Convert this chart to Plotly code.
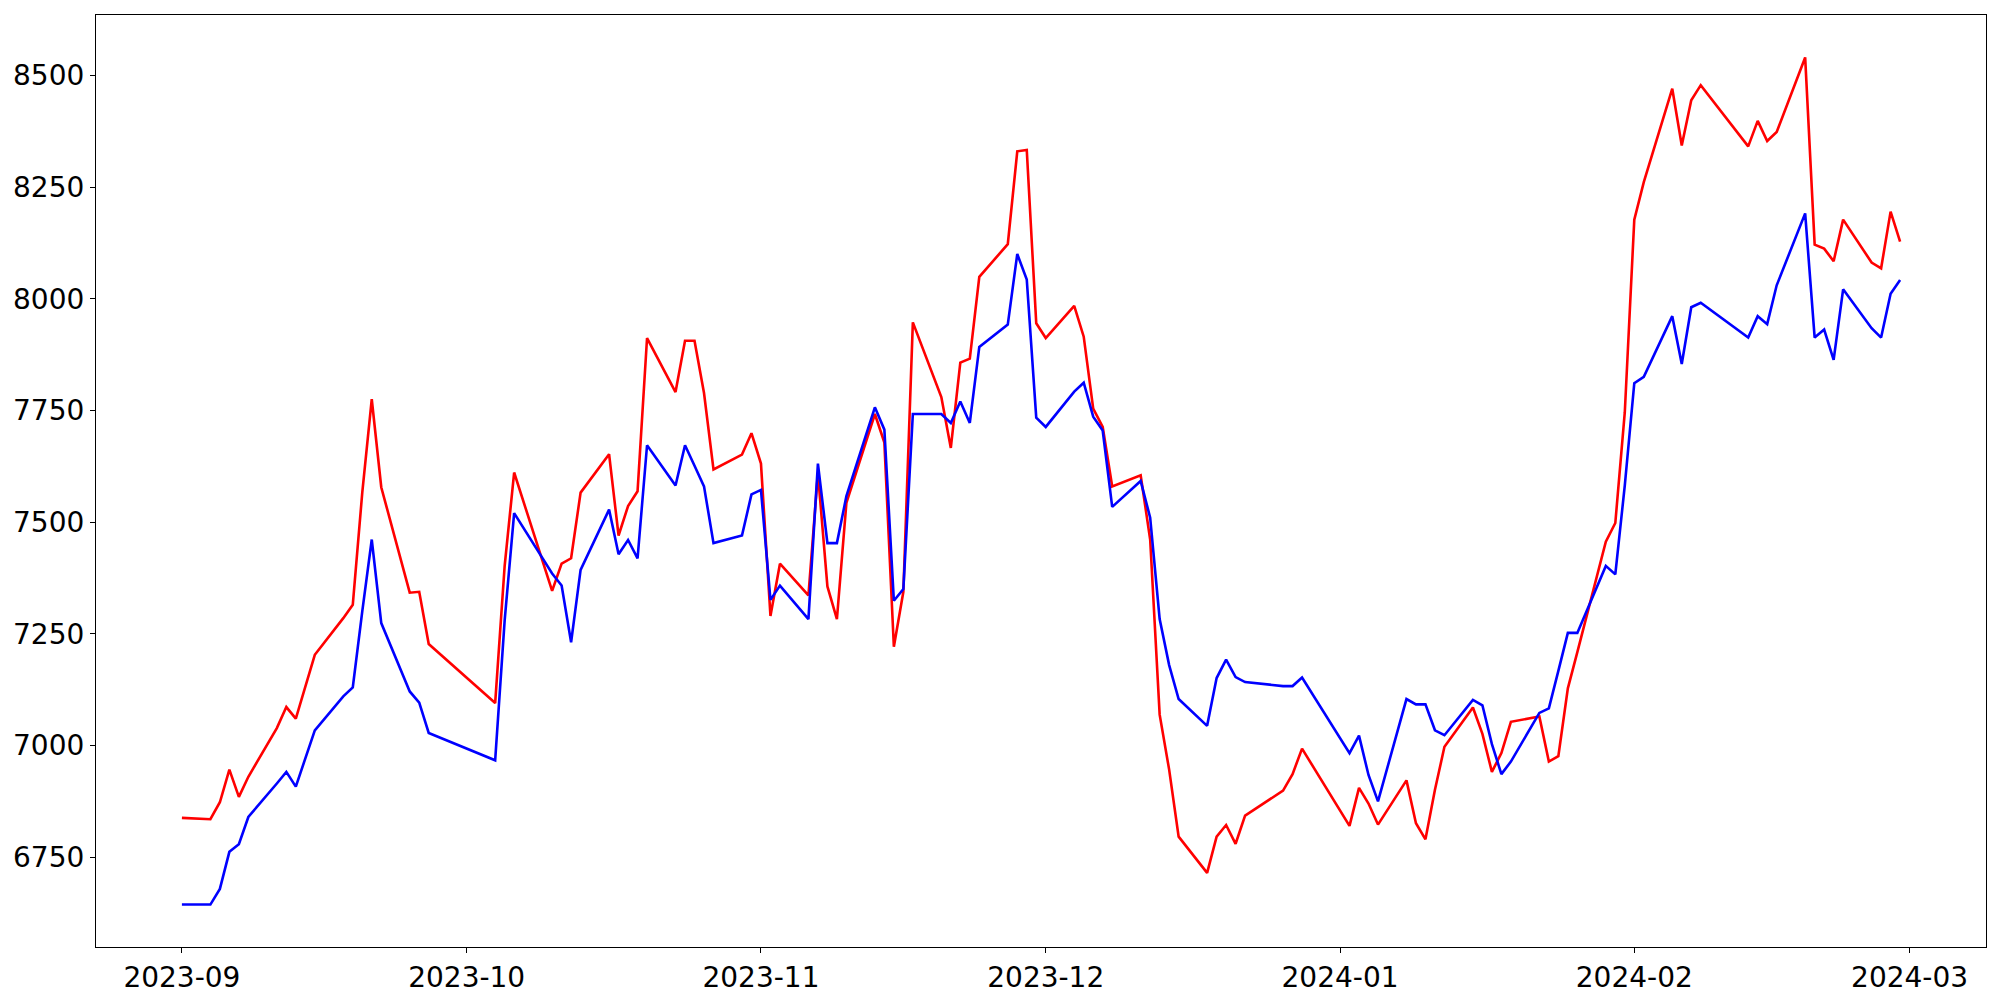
import plotly.graph_objects as go

# trading days (weekends / holidays skipped)
dates = [
    "2023-09-01", "2023-09-04", "2023-09-05", "2023-09-06", "2023-09-07", "2023-09-08",
    "2023-09-11", "2023-09-12", "2023-09-13", "2023-09-14", "2023-09-15",
    "2023-09-18", "2023-09-19", "2023-09-20", "2023-09-21", "2023-09-22",
    "2023-09-25", "2023-09-26", "2023-09-27",
    "2023-10-04", "2023-10-05", "2023-10-06",
    "2023-10-10", "2023-10-11", "2023-10-12", "2023-10-13",
    "2023-10-16", "2023-10-17", "2023-10-18", "2023-10-19", "2023-10-20",
    "2023-10-23", "2023-10-24", "2023-10-25", "2023-10-26", "2023-10-27",
    "2023-10-30", "2023-10-31",
    "2023-11-01", "2023-11-02", "2023-11-03",
    "2023-11-06", "2023-11-07", "2023-11-08", "2023-11-09", "2023-11-10",
    "2023-11-13", "2023-11-14", "2023-11-15", "2023-11-16", "2023-11-17",
    "2023-11-20", "2023-11-21", "2023-11-22", "2023-11-23", "2023-11-24",
    "2023-11-27", "2023-11-28", "2023-11-29", "2023-11-30",
    "2023-12-01",
    "2023-12-04", "2023-12-05", "2023-12-06", "2023-12-07", "2023-12-08",
    "2023-12-11", "2023-12-12", "2023-12-13", "2023-12-14", "2023-12-15",
    "2023-12-18", "2023-12-19", "2023-12-20", "2023-12-21", "2023-12-22",
    "2023-12-26", "2023-12-27", "2023-12-28",
    "2024-01-02", "2024-01-03", "2024-01-04", "2024-01-05",
    "2024-01-08", "2024-01-09", "2024-01-10", "2024-01-11", "2024-01-12",
    "2024-01-15", "2024-01-16", "2024-01-17", "2024-01-18", "2024-01-19",
    "2024-01-22", "2024-01-23", "2024-01-24", "2024-01-25", "2024-01-26",
    "2024-01-29", "2024-01-30", "2024-01-31",
    "2024-02-01", "2024-02-02",
    "2024-02-05", "2024-02-06", "2024-02-07", "2024-02-08",
    "2024-02-13", "2024-02-14", "2024-02-15", "2024-02-16",
    "2024-02-19", "2024-02-20", "2024-02-21", "2024-02-22", "2024-02-23",
    "2024-02-26", "2024-02-27", "2024-02-28", "2024-02-29",
]

red_vals = [
    6838, 6835, 6873, 6946, 6885, 6930,
    7039, 7086, 7060, 7132, 7203,
    7285, 7315, 7566, 7775, 7578,
    7342, 7344, 7227,
    7095, 7402, 7611,
    7346, 7407, 7419, 7566,
    7652, 7470, 7536, 7569, 7912,
    7791, 7906, 7906, 7789, 7618,
    7651, 7699,
    7631, 7290, 7407,
    7336, 7610, 7356, 7283, 7543,
    7742, 7678, 7221, 7344, 7947,
    7780, 7666, 7857, 7866, 8049,
    8122, 8330, 8333, 7945,
    7912,
    7984, 7915, 7754, 7713, 7580,
    7605, 7461, 7069, 6946, 6796,
    6715, 6796, 6822, 6780, 6843,
    6899, 6936, 6993,
    6820, 6905, 6870, 6823,
    6922, 6826, 6790, 6901, 6997,
    7085, 7026, 6941, 6983, 7053,
    7065, 6964, 6976, 7128, 7209,
    7456, 7498, 7746,
    8177, 8261,
    8470, 8343, 8444, 8478,
    8341, 8398, 8353, 8373,
    8540, 8121, 8112, 8084, 8177,
    8081, 8068, 8195, 8128,
]

blue_vals = [
    6644, 6644, 6679, 6762, 6779, 6840,
    6915, 6941, 6908, 6971, 7034,
    7110, 7130, 7300, 7461, 7274,
    7121, 7096, 7028,
    6967, 7280, 7520,
    7385, 7358, 7231, 7393,
    7528, 7428, 7460, 7419, 7672,
    7582, 7672, 7626, 7580, 7453,
    7470, 7562,
    7572, 7326, 7358,
    7283, 7631, 7453, 7453, 7558,
    7757, 7707, 7324, 7350, 7742,
    7742, 7722, 7770, 7722, 7892,
    7942, 8100, 8043, 7734,
    7713,
    7792, 7812, 7736, 7705, 7534,
    7592, 7510, 7283, 7180, 7104,
    7044, 7151, 7192, 7153, 7142,
    7133, 7133, 7152,
    6983, 7022, 6934, 6875,
    7104, 7092, 7092, 7034, 7023,
    7102, 7090, 7003, 6936, 6964,
    7073, 7083, 7167, 7252, 7252,
    7402, 7383, 7582,
    7811, 7825,
    7961, 7854, 7981, 7991,
    7913, 7961, 7943, 8030,
    8191, 7913, 7931, 7863, 8021,
    7934, 7913, 8011, 8042,
]

y_ticks = [6750, 7000, 7250, 7500, 7750, 8000, 8250, 8500]

fig = go.Figure()
fig.add_trace(go.Scatter(x=dates, y=red_vals, mode="lines",
                         line=dict(color="red", width=2.6), showlegend=False))
fig.add_trace(go.Scatter(x=dates, y=blue_vals, mode="lines",
                         line=dict(color="blue", width=2.6), showlegend=False))

axis_style = dict(
    showline=True, linecolor="black", linewidth=1.2, mirror=True,
    showgrid=False, zeroline=False, automargin=False,
    ticks="outside", ticklen=5, tickwidth=1.2, tickcolor="black",
    tickfont=dict(family="DejaVu Sans", size=28, color="black"),
)

fig.update_xaxes(type="date", range=["2023-08-22 22:48", "2024-03-09 01:12"],
                 tick0="2023-09-01", dtick="M1", tickformat="%Y-%m", **axis_style)
fig.update_yaxes(range=[6549, 8635], tickvals=y_ticks, **axis_style)

# page body has an 8px margin, so the figure sits 8px in from the window edge
fig.update_layout(
    width=1992, height=992,
    paper_bgcolor="white", plot_bgcolor="white",
    margin=dict(l=88, r=14, t=7, b=53),
)

fig.write_html("out.html")
